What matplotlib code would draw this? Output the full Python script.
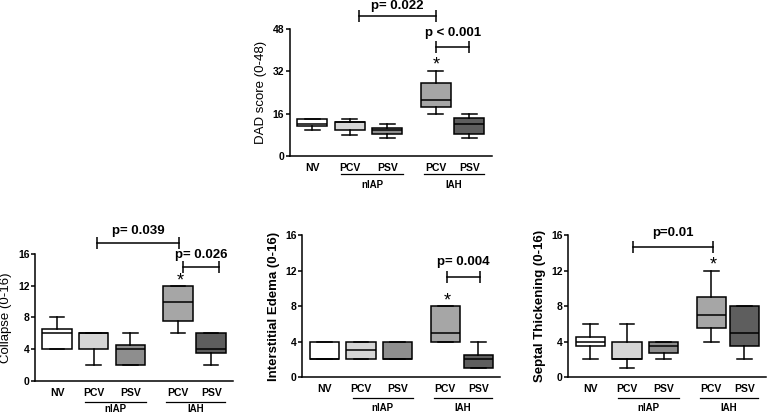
import matplotlib.pyplot as plt

plt.rcParams['font.family'] = ['Liberation Sans', 'DejaVu Sans']

# group layout
tick_labels = ["NV", "PCV", "PSV", "PCV", "PSV"]
positions = [1, 2, 3, 4.3, 5.2]
group_names = ["nIAP", "IAH"]
colors = ["#ffffff", "#d6d6d6", "#8e8e8e", "#a6a6a6", "#5e5e5e"]

# box stats per panel: whisker low, q1, median, q3, whisker high
dad_min = [10, 8, 7, 16, 7]
dad_q1 = [11.5, 10, 8.5, 18.7, 8.5]
dad_med = [12, 13, 10, 21, 12]
dad_q3 = [14, 13, 10.5, 27.5, 14.5]
dad_max = [14, 14, 12, 32, 16]

col_min = [4, 2, 2, 6, 2]
col_q1 = [4, 4, 2, 7.5, 3.5]
col_med = [6, 6, 4, 10, 4]
col_q3 = [6.5, 6, 4.5, 12, 6]
col_max = [8, 6, 6, 12, 6]

ede_min = [2, 2, 2, 4, 1]
ede_q1 = [2, 2, 2, 4, 1]
ede_med = [2, 3, 2, 5, 2]
ede_q3 = [4, 4, 4, 8, 2.5]
ede_max = [4, 4, 4, 8, 4]

sep_min = [2, 1, 2, 4, 2]
sep_q1 = [3.5, 2, 2.75, 5.5, 3.5]
sep_med = [4, 2, 3.5, 7, 5]
sep_q3 = [4.5, 4, 4, 9, 8]
sep_max = [6, 6, 4, 12, 8]


def stats(lo, q1, med, q3, hi):
    return [dict(whislo=a, q1=b, med=c, q3=d, whishi=e)
            for a, b, c, d, e in zip(lo, q1, med, q3, hi)]


def bracket(ax, x1, x2, y, label, ty):
    ax.plot([x1, x2], [y, y], color='black', lw=1.1, marker='|', ms=9,
            mew=1.1, clip_on=False)
    ax.text((x1 + x2) / 2, ty, label, ha='center', va='center',
            fontsize=9.5, fontweight='bold', clip_on=False)


def panel(rect, st, ymax, yticks, ylabel, ylw, gl_y, gt_y):
    ax = fig.add_axes(rect)
    b = ax.bxp(st, positions=positions, widths=0.8, showfliers=False,
               patch_artist=True,
               boxprops=dict(linewidth=1.1, edgecolor='black'),
               medianprops=dict(color='black', linewidth=1.1),
               whiskerprops=dict(linewidth=1.1),
               capprops=dict(linewidth=1.1))
    for patch, c in zip(b['boxes'], colors):
        patch.set_facecolor(c)
    for cap in b['caps']:
        x = cap.get_xdata()
        m = (x[0] + x[1]) / 2
        cap.set_xdata([m - 0.2, m + 0.2])
    ax.set_xlim(0.4, 5.8)
    ax.set_ylim(0, ymax)
    ax.set_yticks(yticks)
    ax.spines['top'].set_visible(False)
    ax.spines['right'].set_visible(False)
    ax.spines['left'].set_linewidth(1.1)
    ax.spines['bottom'].set_linewidth(1.1)
    ax.set_xticks(positions)
    ax.set_xticklabels(tick_labels, fontsize=7.5, fontweight='bold')
    ax.tick_params(axis='x', length=0, pad=5)
    ax.tick_params(axis='y', length=3, width=1.1, pad=1, labelsize=7.5)
    for t in ax.get_yticklabels():
        t.set_fontweight('bold')
    ax.set_ylabel(ylabel, fontsize=9.5, fontweight=ylw, labelpad=4)
    tr = ax.get_xaxis_transform()
    for (x1, x2), name in zip([(1.77, 3.42), (3.98, 5.58)], group_names):
        ax.plot([x1, x2], [gl_y, gl_y], color='black', lw=0.9,
                transform=tr, clip_on=False)
        ax.text((x1 + x2) / 2, gt_y, name, transform=tr, ha='center',
                va='center', fontsize=7, fontweight='bold')
    return ax


fig = plt.figure(figsize=(7.71, 4.15), dpi=100)

ax1 = panel([0.376, 0.624, 0.262, 0.306],
            stats(dad_min, dad_q1, dad_med, dad_q3, dad_max),
            48, [0, 16, 32, 48], "DAD score (0-48)", 'normal', -0.142, -0.228)
bracket(ax1, 2.25, 4.3, 52.9, "p= 0.022", 56.9)
bracket(ax1, 4.3, 5.2, 41.2, "p < 0.001", 46.5)
ax1.text(4.3, 34.3, "*", ha='center', va='center', fontsize=13)

ax2 = panel([0.0454, 0.082, 0.257, 0.306],
            stats(col_min, col_q1, col_med, col_q3, col_max),
            16, [0, 4, 8, 12, 16], "Collapse (0-16)", 'normal', -0.165, -0.222)
bracket(ax2, 2.09, 4.32, 17.4, "p= 0.039", 18.9)
bracket(ax2, 4.43, 5.41, 14.3, "p= 0.026", 15.9)
ax2.text(4.35, 12.6, "*", ha='center', va='center', fontsize=13)

ax3 = panel([0.392, 0.0916, 0.257, 0.342],
            stats(ede_min, ede_q1, ede_med, ede_q3, ede_max),
            16, [0, 4, 8, 12, 16], "Interstitial Edema (0-16)", 'bold',
            -0.146, -0.218)
bracket(ax3, 4.35, 5.25, 11.3, "p= 0.004", 13.0)
ax3.text(4.35, 8.6, "*", ha='center', va='center', fontsize=13)

ax4 = panel([0.737, 0.0916, 0.257, 0.342],
            stats(sep_min, sep_q1, sep_med, sep_q3, sep_max),
            16, [0, 4, 8, 12, 16], "Septal Thickening (0-16)", 'bold',
            -0.146, -0.218)
bracket(ax4, 2.17, 4.35, 14.7, "p=0.01", 16.2)
ax4.text(4.35, 12.6, "*", ha='center', va='center', fontsize=13)

fig.savefig("out.png", dpi=100)
